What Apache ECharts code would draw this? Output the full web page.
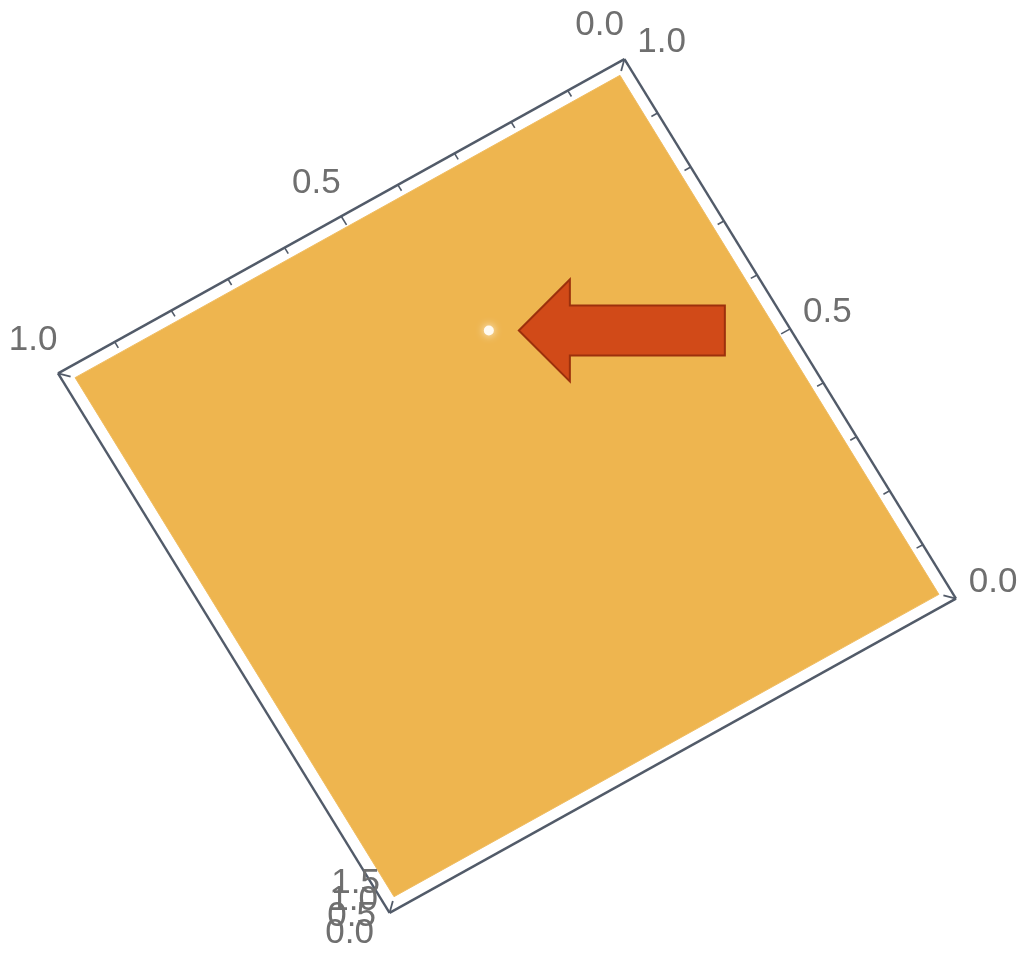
<!DOCTYPE html>
<html>
<head>
<meta charset="utf-8">
<script src="https://cdn.jsdelivr.net/npm/echarts@6/dist/echarts.min.js"></script>
<style>
html,body{margin:0;padding:0;background:#ffffff;}
#chart{width:1020px;height:956px;}
</style>
</head>
<body>
<div id="chart"></div>
<script>
// ---- data ----
const uTicks = [0, 0.1, 0.2, 0.3, 0.4, 0.5, 0.6, 0.7, 0.8, 0.9, 1.0];
const vTicks = [0, 0.1, 0.2, 0.3, 0.4, 0.5, 0.6, 0.7, 0.8, 0.9, 1.0];
const uLabelValues = [0, 0.5, 1.0];
const uLabelTexts = ['0.0', '0.5', '1.0'];
const vLabelValues = [0, 0.5, 1.0];
const vLabelTexts = ['0.0', '0.5', '1.0'];
const zLabelValues = [0, 0.5, 1.0, 1.5];
const zLabelTexts = ['0.0', '0.5', '1.0', '1.5'];
const surfaceU = [0, 1];
const surfaceV = [0, 1];
const holeU = [0.394];
const holeV = [0.738];

// ---- view (projection of the 3D box seen from above) ----
const VIEW = [0.885, 0.518, -0.491, 0.843];
const SURFACE_DEPTH = 0.962;
const FRAME = '#525b69';
const LABEL = '#6f6f6f';
const FONT = '35px "Liberation Sans", Arial, sans-serif';

function project(api, u, v, s) {
  const p = api.coord([u, v]);
  const c = api.coord([0.5, 0.5]);
  const lx = p[0] - c[0], ly = p[1] - c[1];
  const k = s == null ? 1 : s;
  return [c[0] + k * (VIEW[0] * lx + VIEW[1] * ly), c[1] + k * (VIEW[2] * lx + VIEW[3] * ly)];
}

const chart = echarts.init(document.getElementById('chart'), null, {renderer: 'canvas'});

const option = {
  animation: false,
  backgroundColor: '#ffffff',
  grid: {left: 187, top: 166, width: 640, height: 640},
  xAxis: {type: 'value', min: 0, max: 1, inverse: true, show: false},
  yAxis: {type: 'value', min: 0, max: 1, show: false},
  series: [
    // surface
    {
      type: 'custom', clip: false, z: 1,
      data: [[0.5, 0.5]],
      renderItem: function (params, api) {
        const u0 = surfaceU[0], u1 = surfaceU[1], v0 = surfaceV[0], v1 = surfaceV[1];
        const pts = [[u0, v0], [u1, v0], [u1, v1], [u0, v1]].map(function (q) {
          return project(api, q[0], q[1], SURFACE_DEPTH);
        });
        return {type: 'polygon', shape: {points: pts}, style: {fill: '#eeb54f', stroke: '#f0bd62', lineWidth: 1}};
      }
    },
    // box frame
    {
      type: 'custom', clip: false, z: 3,
      data: [[0.5, 0.5]],
      renderItem: function (params, api) {
        const corners = [[0, 0], [1, 0], [1, 1], [0, 1]];
        const outer = corners.map(function (q) { return project(api, q[0], q[1], 1); });
        const inner = corners.map(function (q) { return project(api, q[0], q[1], 0.972); });
        const children = [];
        for (let i = 0; i < 4; i++) {
          const a = outer[i], b = outer[(i + 1) % 4];
          children.push({type: 'line', shape: {x1: a[0], y1: a[1], x2: b[0], y2: b[1]},
            style: {stroke: FRAME, lineWidth: 2.4}});
          children.push({type: 'line', shape: {x1: a[0], y1: a[1], x2: inner[i][0], y2: inner[i][1]},
            style: {stroke: FRAME, lineWidth: 1.8}});
        }
        return {type: 'group', children: children};
      }
    },
    // u axis ticks (top-left edge, v = 1)
    {
      type: 'custom', clip: false, z: 3,
      data: uTicks.map(function (t) { return [t, 1]; }),
      renderItem: function (params, api) {
        const t = api.value(0);
        const len = (Math.abs(t - 0.5) < 1e-9) ? 0.016 : 0.011;
        const a = project(api, t, 1, 1), b = project(api, t, 1 - len, 1);
        return {type: 'line', shape: {x1: a[0], y1: a[1], x2: b[0], y2: b[1]}, style: {stroke: FRAME, lineWidth: 1.6}};
      }
    },
    // v axis ticks (top-right edge, u = 0)
    {
      type: 'custom', clip: false, z: 3,
      data: vTicks.map(function (t) { return [0, t]; }),
      renderItem: function (params, api) {
        const t = api.value(1);
        const len = (Math.abs(t - 0.5) < 1e-9) ? 0.016 : 0.011;
        const a = project(api, 0, t, 1), b = project(api, len, t, 1);
        return {type: 'line', shape: {x1: a[0], y1: a[1], x2: b[0], y2: b[1]}, style: {stroke: FRAME, lineWidth: 1.6}};
      }
    },
    // u labels
    {
      type: 'custom', clip: false, z: 4,
      data: uLabelValues.map(function (t, i) { return [t, 1, i]; }),
      renderItem: function (params, api) {
        const p = project(api, api.value(0), 1.06, 1);
        return {type: 'text', x: p[0] - 5, y: p[1] - 1,
          style: {text: uLabelTexts[api.value(2)], font: FONT, fill: LABEL, align: 'center', verticalAlign: 'middle'}};
      }
    },
    // v labels
    {
      type: 'custom', clip: false, z: 4,
      data: vLabelValues.map(function (t, i) { return [0, t, i]; }),
      renderItem: function (params, api) {
        const p = project(api, -0.062, api.value(1), 1);
        return {type: 'text', x: p[0] + 2, y: p[1] + 3,
          style: {text: vLabelTexts[api.value(2)], font: FONT, fill: LABEL, align: 'center', verticalAlign: 'middle'}};
      }
    },
    // z labels (axis seen end-on at the bottom corner)
    {
      type: 'custom', clip: false, z: 4,
      data: zLabelValues.map(function (t, i) { return [1, 0, t, i]; }),
      renderItem: function (params, api) {
        const c = project(api, 1, 0, 1);
        const z = api.value(2);
        return {type: 'text', x: c[0] - 40 + 4 * z, y: c[1] + 20 - 33 * z,
          style: {text: zLabelTexts[api.value(3)], font: FONT, fill: LABEL, align: 'center', verticalAlign: 'middle'}};
      }
    },
    // hole in the surface + arrow pointing to it
    {
      type: 'custom', clip: false, z: 5,
      data: holeU.map(function (u, i) { return [u, holeV[i]]; }),
      renderItem: function (params, api) {
        const p = project(api, api.value(0), api.value(1), SURFACE_DEPTH);
        const tx = p[0] + 30, ty = p[1];
        const arrow = [[tx, ty], [tx + 51, ty - 51], [tx + 51, ty - 25], [tx + 206, ty - 25],
                       [tx + 206, ty + 25], [tx + 51, ty + 25], [tx + 51, ty + 51]];
        return {type: 'group', children: [
          {type: 'circle', shape: {cx: p[0], cy: p[1], r: 5},
            style: {fill: '#fffaf0', shadowBlur: 8, shadowColor: 'rgba(255,255,255,0.9)'}},
          {type: 'polygon', shape: {points: arrow},
            style: {fill: '#d14a18', stroke: '#9c300c', lineWidth: 2, lineJoin: 'miter'}}
        ]};
      }
    }
  ]
};
chart.setOption(option);
</script>
</body>
</html>
